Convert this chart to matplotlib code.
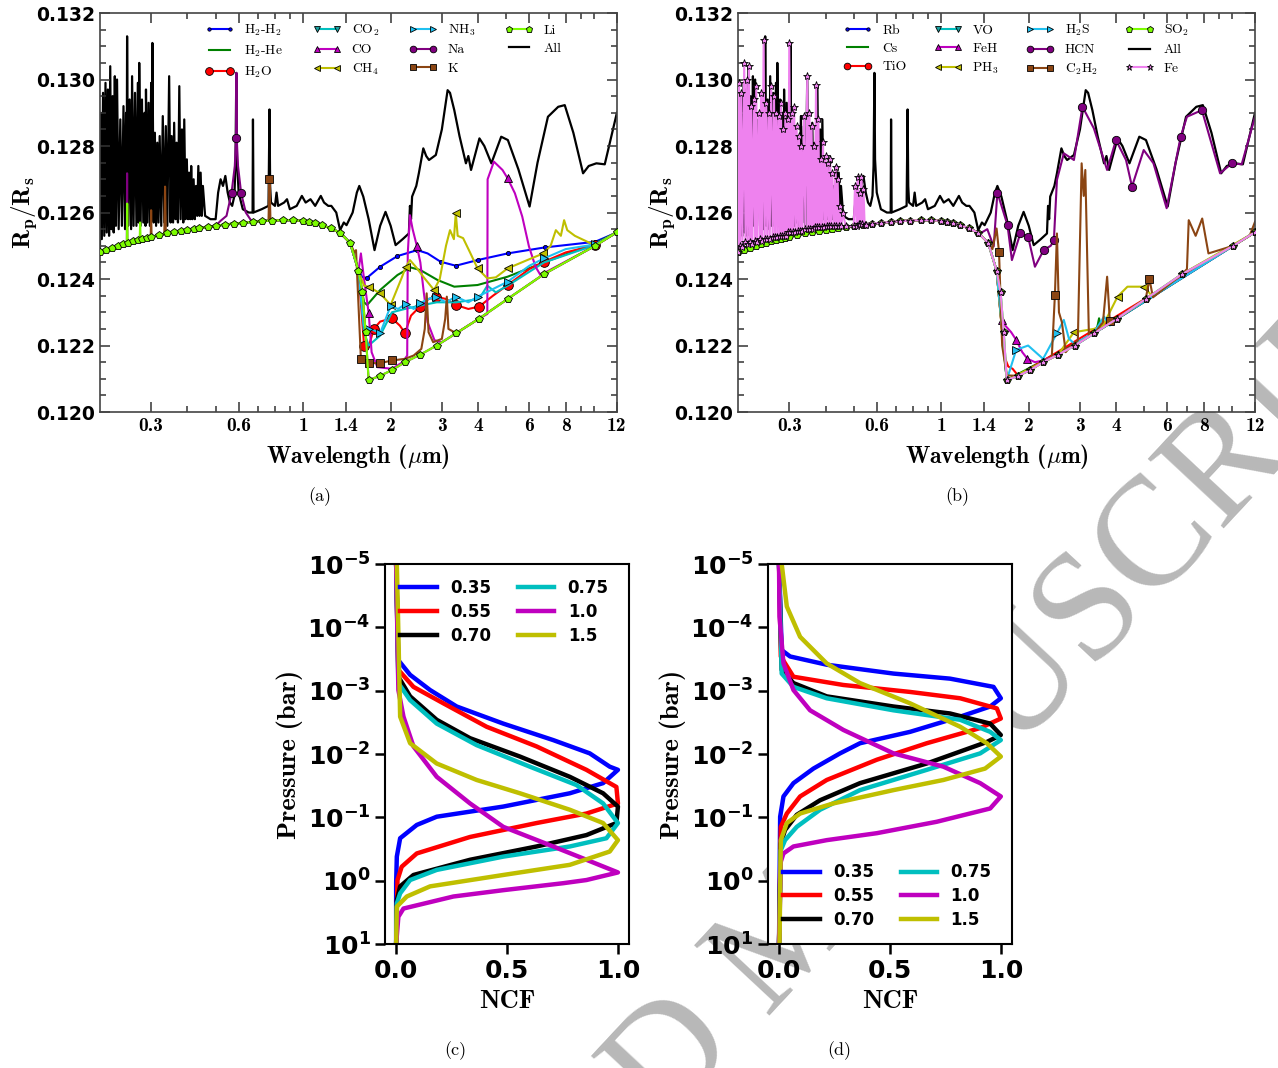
import numpy as np
import matplotlib.pyplot as plt
from matplotlib.ticker import FixedLocator, FixedFormatter, MultipleLocator, FormatStrFormatter, FuncFormatter
from matplotlib.font_manager import FontProperties

plt.rcParams['mathtext.fontset'] = 'dejavusans'

# ---------------- transmission spectra (panels a, b) ----------------
base_wl = [0.20, 0.21, 0.22, 0.23, 0.24, 0.25, 0.26, 0.27, 0.28, 0.29, 0.30, 0.32, 0.34,
           0.36, 0.38, 0.40, 0.42, 0.44, 0.47, 0.50, 0.54, 0.58, 0.62, 0.67, 0.72, 0.78,
           0.85, 0.92, 1.00, 1.05, 1.10, 1.16, 1.25, 1.34, 1.45, 1.55, 1.60, 1.64, 1.68,
           1.84, 2.02, 2.24, 2.52, 2.88, 3.36, 4.03, 5.05, 6.74, 10.1, 12.0]
base_rp = [0.12480, 0.12487, 0.12493, 0.12499, 0.12504, 0.12509, 0.12513, 0.12517, 0.12521,
           0.12524, 0.12527, 0.12532, 0.12537, 0.12541, 0.12545, 0.12548, 0.12551, 0.12553,
           0.12557, 0.12560, 0.12564, 0.12567, 0.12569, 0.12572, 0.12574, 0.12576, 0.12577,
           0.12577, 0.12575, 0.12573, 0.12568, 0.12562, 0.12552, 0.12539, 0.12509, 0.12425,
           0.12360, 0.12240, 0.12096, 0.12109, 0.12126, 0.12150, 0.12172, 0.12200, 0.12237,
           0.12281, 0.12340, 0.12415, 0.12500, 0.12541]

# total spectrum ("All"), same in both panels
all_wl = [0.200, 0.201, 0.203, 0.205, 0.207, 0.209, 0.211, 0.213, 0.215, 0.217, 0.219, 0.221,
          0.223, 0.225, 0.227, 0.229, 0.232, 0.235, 0.238, 0.241, 0.244, 0.246, 0.247, 0.248,
          0.250, 0.253, 0.256, 0.258, 0.261, 0.264, 0.267, 0.270, 0.272, 0.273, 0.276, 0.279,
          0.282, 0.285, 0.287, 0.288, 0.291, 0.294, 0.297, 0.300, 0.302, 0.303, 0.306, 0.309,
          0.312, 0.315, 0.318, 0.321, 0.325, 0.329, 0.333, 0.337, 0.341, 0.346, 0.350, 0.353,
          0.357, 0.360, 0.364, 0.367, 0.371, 0.375, 0.379, 0.383, 0.387, 0.390, 0.394, 0.398,
          0.402, 0.405, 0.409, 0.412, 0.416, 0.420, 0.424, 0.428, 0.432, 0.436, 0.440, 0.444,
          0.448, 0.452, 0.46, 0.48, 0.50, 0.51, 0.52, 0.53, 0.54, 0.55, 0.56, 0.57, 0.58,
          0.585, 0.589, 0.592, 0.60, 0.62, 0.65, 0.670, 0.672, 0.675, 0.72, 0.76, 0.766,
          0.770, 0.775, 0.80, 0.81, 0.82, 0.86, 0.88, 0.90, 0.95, 0.99, 1.02, 1.06, 1.10,
          1.15, 1.18, 1.22, 1.25, 1.30, 1.34, 1.38, 1.41, 1.48, 1.53, 1.56, 1.61, 1.68,
          1.76, 1.84, 1.92, 2.00, 2.08, 2.20, 2.31, 2.33, 2.35, 2.37, 2.45, 2.50, 2.59,
          2.65, 2.71, 2.86, 3.00, 3.14, 3.20, 3.31, 3.45, 3.63, 3.70, 3.78, 4.04, 4.20,
          4.44, 4.80, 5.06, 5.50, 6.01, 6.40, 6.95, 7.54, 7.94, 8.50, 9.18, 9.60, 10.2,
          10.9, 12.0]
all_rp = [0.1249, 0.1290, 0.1252, 0.1296, 0.1253, 0.1299, 0.1254, 0.1297, 0.1253, 0.1304, 0.1255,
          0.1295, 0.1254, 0.1301, 0.1256, 0.1300, 0.1255, 0.1288, 0.1256, 0.1292, 0.1255, 0.1290,
          0.1257, 0.1313, 0.1256, 0.1294, 0.1255, 0.1301, 0.1256, 0.1296, 0.1256, 0.1299, 0.1257,
          0.1305, 0.1256, 0.1294, 0.1257, 0.1290, 0.1256, 0.1297, 0.1257, 0.1293, 0.1256, 0.1299,
          0.1258, 0.1311, 0.1257, 0.1284, 0.1256, 0.1281, 0.1257, 0.1283, 0.1256, 0.1289, 0.1257,
          0.1286, 0.1256, 0.1301, 0.1257, 0.1283, 0.1257, 0.1287, 0.1258, 0.1281, 0.1257, 0.1298,
          0.1258, 0.1285, 0.1257, 0.1288, 0.1258, 0.1276, 0.1258, 0.1272, 0.1258, 0.1274, 0.1258,
          0.1270, 0.1258, 0.1268, 0.1259, 0.1274, 0.1259, 0.1272, 0.1259, 0.1268, 0.1259, 0.1258,
          0.1258, 0.1266, 0.1270, 0.1268, 0.1271, 0.1266, 0.1263, 0.1262, 0.1265, 0.1274, 0.1302,
          0.1276, 0.1266, 0.1261, 0.1260, 0.1260, 0.1288, 0.1260, 0.1261, 0.1262, 0.1291, 0.1268,
          0.1263, 0.1262, 0.1266, 0.1262, 0.1263, 0.1264, 0.1261, 0.1262, 0.1265, 0.1263, 0.1264,
          0.1262, 0.1265, 0.1263, 0.1262, 0.1262, 0.1260, 0.12547, 0.1257, 0.12562, 0.1260,
          0.1266, 0.12680, 0.12648, 0.1258, 0.12487, 0.1256, 0.12602, 0.1256, 0.12502, 0.1252,
          0.12537, 0.1262, 0.1258, 0.12648, 0.1268, 0.12718, 0.12793, 0.1277, 0.12758, 0.12773,
          0.1285, 0.12968, 0.1296, 0.12908, 0.1283, 0.12748, 0.1277, 0.12728, 0.12823, 0.1280,
          0.12748, 0.12828, 0.12818, 0.1273, 0.12618, 0.1275, 0.12888, 0.12918, 0.12923, 0.1284,
          0.12718, 0.1274, 0.12748, 0.12745, 0.12900]

# panel (a) molecules/continua, from 1.45 um on (continuum below that)
h2h2_wl = [1.45, 1.55, 1.60, 1.66, 1.84, 2.11, 2.47, 2.68, 2.97, 3.35, 3.98, 5.05, 6.77, 10.1, 12.0]
h2h2_rp = [0.12509, 0.12425, 0.12405, 0.12404, 0.12437, 0.12469, 0.12487, 0.12477, 0.12452,
           0.12440, 0.12457, 0.12477, 0.12495, 0.12512, 0.12540]
h2he_wl = [1.45, 1.55, 1.62, 1.66, 1.84, 2.11, 2.34, 2.53, 2.90, 3.31, 3.98, 5.05, 6.60, 10.1, 12.0]
h2he_rp = [0.12509, 0.12425, 0.12330, 0.12322, 0.12367, 0.12412, 0.12435, 0.12427, 0.12397,
           0.12377, 0.12382, 0.12407, 0.12447, 0.12507, 0.12541]
h2o_wl = [1.45, 1.55, 1.62, 1.68, 1.75, 1.84, 2.02, 2.15, 2.24, 2.35, 2.52, 2.70, 2.86, 3.10,
          3.35, 3.70, 4.03, 4.50, 5.05, 6.00, 6.74, 8.00, 10.1, 12.0]
h2o_rp = [0.12509, 0.12425, 0.12200, 0.12196, 0.12250, 0.12272, 0.12282, 0.12260, 0.12238,
          0.12290, 0.12317, 0.12340, 0.12347, 0.12340, 0.12322, 0.12310, 0.12317, 0.12350,
          0.12382, 0.12430, 0.12452, 0.12480, 0.12502, 0.12540]
co2_wl = [1.45, 1.55, 1.62, 1.68, 1.84, 2.02, 2.24, 2.52, 2.88, 3.36, 4.03, 4.30, 4.60, 5.05,
          6.74, 10.1, 12.0]
co2_rp = [0.12509, 0.12425, 0.12240, 0.12200, 0.12230, 0.12300, 0.12310, 0.12320, 0.12330,
          0.12330, 0.12340, 0.12380, 0.12360, 0.12380, 0.12450, 0.12502, 0.12540]
co_wl = [1.45, 1.55, 1.58, 1.62, 1.68, 1.72, 1.80, 2.02, 2.20, 2.28, 2.29, 2.33, 2.38, 2.46,
         2.53, 2.60, 2.68, 2.83, 3.00, 3.36, 4.03, 4.30, 4.31, 4.53, 4.85, 5.05, 5.35, 5.67,
         5.98, 6.30, 6.55, 10.1, 12.0]
co_rp = [0.12509, 0.12425, 0.12477, 0.12400, 0.12298, 0.12180, 0.12135, 0.12130, 0.12150,
         0.12170, 0.12477, 0.12592, 0.12550, 0.12500, 0.12450, 0.12360, 0.12270, 0.12216,
         0.12210, 0.12237, 0.12281, 0.12295, 0.12700, 0.12753, 0.12728, 0.12703, 0.12658,
         0.12588, 0.12498, 0.12437, 0.12412, 0.12500, 0.12541]
ch4_wl = [1.45, 1.55, 1.62, 1.68, 1.84, 2.00, 2.19, 2.25, 2.33, 2.45, 2.60, 2.82, 2.95, 3.10,
          3.20, 3.30, 3.35, 3.40, 3.55, 3.75, 3.98, 4.30, 4.60, 5.05, 5.90, 6.70, 7.10, 7.40,
          7.70, 7.90, 8.10, 8.60, 9.50, 10.1, 12.0]
ch4_rp = [0.12509, 0.12425, 0.12380, 0.12377, 0.12357, 0.12322, 0.12407, 0.12435, 0.12457,
          0.12435, 0.12405, 0.12367, 0.12400, 0.12500, 0.12547, 0.12520, 0.12598, 0.12530,
          0.12523, 0.12480, 0.12432, 0.12402, 0.12405, 0.12432, 0.12457, 0.12477, 0.12500,
          0.12547, 0.12530, 0.12577, 0.12547, 0.12530, 0.12512, 0.12502, 0.12541]
nh3_wl = [1.45, 1.55, 1.62, 1.68, 1.76, 1.84, 2.00, 2.12, 2.25, 2.40, 2.52, 2.70, 2.86, 3.10,
          3.35, 3.70, 3.98, 4.50, 5.05, 6.00, 6.74, 8.00, 10.1, 12.0]
nh3_rp = [0.12509, 0.12425, 0.12260, 0.12250, 0.12245, 0.12237, 0.12319, 0.12310, 0.12325,
          0.12310, 0.12327, 0.12340, 0.12347, 0.12330, 0.12347, 0.12330, 0.12347, 0.12370,
          0.12392, 0.12440, 0.12462, 0.12490, 0.12504, 0.12540]
k_wl = [1.45, 1.50, 1.52, 1.58, 1.68, 1.84, 2.02, 2.24, 2.40, 2.55, 2.62, 2.66, 2.70, 2.80,
        3.00, 3.08, 3.12, 3.16, 3.36, 4.03, 5.05, 6.74, 10.1, 12.0]
k_rp = [0.12509, 0.12480, 0.12487, 0.12160, 0.12147, 0.12147, 0.12155, 0.12160, 0.12170,
        0.12190, 0.12250, 0.12357, 0.12240, 0.12210, 0.12220, 0.12280, 0.12347, 0.12250,
        0.12237, 0.12281, 0.12340, 0.12415, 0.12500, 0.12541]

# narrow atomic lines at short wavelength (wavelength, Rp/Rs)
na_lines = [([0.52, 0.545, 0.567, 0.582, 0.588, 0.5895, 0.591, 0.597, 0.612, 0.635, 0.66],
             [0.12575, 0.12590, 0.12658, 0.12740, 0.12823, 0.13020, 0.12823, 0.12740, 0.12658,
              0.12600, 0.12578]),
            ([0.2475, 0.248, 0.2485], [0.12508, 0.12718, 0.12509])]
na_mark = [0.567, 0.588, 0.612]
k_lines = [([0.299, 0.300, 0.301], [0.12526, 0.12607, 0.12527]),
           ([0.333, 0.335, 0.337], [0.12536, 0.12678, 0.12537]),
           ([0.760, 0.766, 0.772], [0.12575, 0.12700, 0.12575])]
li_lines = [([0.2476, 0.2482, 0.2488], [0.12508, 0.12627, 0.12510]),
            ([0.274, 0.275, 0.276], [0.12519, 0.12570, 0.12520])]

# panel (b) species
hcn_wl = [1.36, 1.44, 1.515, 1.56, 1.69, 1.75, 1.87, 1.99, 2.10, 2.25, 2.38, 2.44, 2.50, 2.64,
          2.86, 3.06, 3.35, 3.72, 3.99, 4.32, 4.53, 4.97, 5.37, 5.96, 6.66, 7.00, 7.88, 9.10,
          10.0, 10.8, 12.0]
hcn_rp = [0.12537, 0.12550, 0.12498, 0.12660, 0.12562, 0.12457, 0.12537, 0.12527, 0.12437,
          0.12487, 0.12500, 0.12517, 0.12698, 0.12778, 0.12758, 0.12918, 0.12853, 0.12728,
          0.12818, 0.12758, 0.12678, 0.12788, 0.12748, 0.12613, 0.12828, 0.12888, 0.12908,
          0.12718, 0.12748, 0.12745, 0.12888]
c2h2_wl = [1.45, 1.50, 1.55, 1.58, 1.62, 1.68, 1.84, 2.02, 2.24, 2.40, 2.46, 2.50, 2.54, 2.60,
           2.68, 2.80, 2.95, 3.04, 3.09, 3.13, 3.22, 3.36, 3.60, 3.72, 3.80, 4.03, 5.05, 5.20,
           5.35, 6.74, 7.00, 7.10, 7.50, 7.90, 8.30, 10.1, 11.5, 12.0]
c2h2_rp = [0.12509, 0.12490, 0.12552, 0.12482, 0.12200, 0.12110, 0.12109, 0.12126, 0.12150,
           0.12165, 0.12352, 0.12537, 0.12300, 0.12270, 0.12180, 0.12200, 0.12215, 0.12748,
           0.12650, 0.12728, 0.12230, 0.12237, 0.12270, 0.12407, 0.12275, 0.12281, 0.12340,
           0.12400, 0.12345, 0.12415, 0.12430, 0.12577, 0.12530, 0.12582, 0.12477, 0.12500,
           0.12530, 0.12572]
feh_wl = [1.45, 1.55, 1.62, 1.66, 1.74, 1.81, 1.90, 1.98, 2.10, 2.24, 2.52, 12.0]
feh_rp = [0.12509, 0.12425, 0.12277, 0.12260, 0.12240, 0.12217, 0.12180, 0.12160, 0.12150,
          0.12155, 0.12172, 0.12541]
h2s_wl = [1.45, 1.55, 1.62, 1.68, 1.81, 1.99, 2.24, 2.50, 2.64, 2.75, 2.88, 3.36, 3.63, 3.80,
          4.03, 12.0]
h2s_rp = [0.12509, 0.12425, 0.12250, 0.12096, 0.12187, 0.12200, 0.12160, 0.12237, 0.12277,
          0.12220, 0.12205, 0.12240, 0.12287, 0.12260, 0.12281, 0.12541]
ph3_wl = [1.45, 1.55, 1.62, 1.68, 2.24, 2.52, 2.86, 3.35, 3.60, 4.04, 4.37, 4.97, 5.30, 6.74, 12.0]
ph3_rp = [0.12509, 0.12425, 0.12240, 0.12096, 0.12150, 0.12172, 0.12240, 0.12250, 0.12260,
          0.12347, 0.12377, 0.12377, 0.12350, 0.12415, 0.12541]
tio_wl = [1.45, 1.55, 1.62, 1.66, 1.70, 1.76, 1.84, 12.0]
tio_rp = [0.12509, 0.12425, 0.12240, 0.12160, 0.12137, 0.12130, 0.12109, 0.12541]
rb_wl = [1.45, 1.55, 1.68, 2.52, 2.70, 2.80, 2.88, 12.0]
rb_rp = [0.12509, 0.12425, 0.12096, 0.12172, 0.12190, 0.12202, 0.12200, 0.12541]
cs_wl = [1.45, 1.55, 1.68, 3.36, 3.45, 3.49, 3.55, 12.0]
cs_rp = [0.12509, 0.12425, 0.12096, 0.12237, 0.12260, 0.12282, 0.12250, 0.12541]
fe_uv_wl = [0.200, 0.201, 0.203, 0.205, 0.207, 0.210, 0.212, 0.214, 0.216, 0.218, 0.220, 0.222,
            0.224, 0.227, 0.229, 0.231, 0.233, 0.236, 0.238, 0.240, 0.242, 0.245, 0.247, 0.250,
            0.252, 0.255, 0.257, 0.260, 0.263, 0.266, 0.268, 0.271, 0.273, 0.276, 0.278, 0.281,
            0.283, 0.286, 0.288, 0.291, 0.293, 0.296, 0.298, 0.300, 0.303, 0.306, 0.309, 0.312,
            0.315, 0.318, 0.321, 0.324, 0.327, 0.330, 0.333, 0.337, 0.341, 0.346, 0.349, 0.352,
            0.355, 0.358, 0.361, 0.364, 0.367, 0.371, 0.374, 0.378, 0.381, 0.385, 0.388, 0.392,
            0.396, 0.400, 0.403, 0.407, 0.411, 0.415, 0.418, 0.422, 0.427, 0.433, 0.436, 0.440,
            0.444, 0.448, 0.453, 0.458, 0.47, 0.50, 0.505, 0.512, 0.516, 0.520, 0.524, 0.527,
            0.531, 0.535, 0.540, 0.545, 0.55]
fe_uv_rp = [0.12480, 0.12990, 0.12500, 0.12960, 0.12495, 0.13050, 0.12510, 0.13000, 0.12505,
            0.13040, 0.12510, 0.12920, 0.12505, 0.12940, 0.12515, 0.12980, 0.12510, 0.12900,
            0.12520, 0.12960, 0.12515, 0.13120, 0.12520, 0.12930, 0.12520, 0.12900, 0.12520,
            0.12980, 0.12525, 0.12950, 0.12525, 0.12900, 0.12525, 0.12890, 0.12530, 0.12930,
            0.12530, 0.12850, 0.12530, 0.12900, 0.12530, 0.12880, 0.12540, 0.13110, 0.12540,
            0.12900, 0.12540, 0.12918, 0.12540, 0.12860, 0.12545, 0.12830, 0.12545, 0.12800,
            0.12545, 0.12890, 0.12550, 0.13010, 0.12550, 0.12900, 0.12550, 0.12860, 0.12550,
            0.12800, 0.12555, 0.12983, 0.12555, 0.12880, 0.12555, 0.12760, 0.12555, 0.12813,
            0.12555, 0.12770, 0.12560, 0.12750, 0.12560, 0.12760, 0.12560, 0.12720, 0.12560,
            0.12738, 0.12560, 0.12700, 0.12560, 0.12620, 0.12558, 0.12598, 0.12558, 0.12560,
            0.12680, 0.12560, 0.12708, 0.12565, 0.12660, 0.12565, 0.12708, 0.12565, 0.12670,
            0.12564, 0.12564]

# ---------------- normalized contribution functions (panels c, d) ----------------
labels_ncf = ['0.35', '0.55', '0.70', '0.75', '1.0', '1.5']
colors_ncf = ['b', 'r', 'k', 'c', 'm', 'y']

# panel (c): log10 pressure [bar] and NCF
c_logp = [
    [-5.0, -3.48, -3.25, -3.01, -2.75, -2.48, -2.22, -2.01, -1.80, -1.75, -1.54, -1.38, -1.17, -1.01, -0.88, -0.67, -0.38, 0.04, 1.0],
    [-5.0, -3.33, -3.06, -2.80, -2.43, -2.12, -1.75, -1.48, -1.22, -1.06, -0.91, -0.69, -0.43, -0.22, -0.01, 1.0],
    [-5.0, -3.22, -2.91, -2.54, -2.25, -1.96, -1.64, -1.38, -1.17, -0.91, -0.72, -0.54, -0.33, -0.09, 0.09, 0.31, 1.0],
    [-5.0, -3.12, -2.85, -2.48, -2.14, -1.80, -1.51, -1.22, -0.91, -0.67, -0.54, -0.38, -0.17, -0.01, 0.20, 0.36, 1.0],
    [-5.0, -3.01, -2.59, -2.12, -1.64, -1.22, -0.85, -0.54, -0.33, -0.13, -0.01, 0.04, 0.15, 0.25, 0.44, 0.57, 1.0],
    [-5.0, -3.91, -2.59, -2.17, -1.85, -1.59, -1.38, -1.12, -0.91, -0.64, -0.46, -0.25, -0.09, 0.09, 0.25, 0.41, 1.0],
]
c_ncf = [
    [0.0, 0.010, 0.063, 0.153, 0.273, 0.483, 0.708, 0.873, 0.963, 1.0, 0.933, 0.783, 0.483, 0.183, 0.093, 0.018, 0.003, 0.0, 0.0],
    [0.0, 0.010, 0.078, 0.213, 0.408, 0.633, 0.858, 0.993, 1.0, 0.858, 0.633, 0.333, 0.093, 0.025, 0.006, 0.0],
    [0.0, 0.010, 0.063, 0.183, 0.333, 0.558, 0.783, 0.933, 1.0, 0.993, 0.858, 0.633, 0.333, 0.078, 0.018, 0.003, 0.0],
    [0.0, 0.010, 0.063, 0.183, 0.363, 0.603, 0.813, 0.933, 1.0, 0.948, 0.783, 0.483, 0.183, 0.063, 0.018, 0.003, 0.0],
    [0.0, 0.010, 0.033, 0.078, 0.183, 0.333, 0.483, 0.708, 0.858, 1.0, 0.858, 0.753, 0.483, 0.258, 0.033, 0.010, 0.0],
    [0.003, 0.010, 0.018, 0.063, 0.183, 0.363, 0.558, 0.783, 0.933, 1.0, 0.963, 0.783, 0.483, 0.153, 0.048, 0.003, 0.0],
]
# panel (d)
d_logp = [
    [-5.0, -3.64, -3.54, -3.41, -3.27, -3.19, -3.06, -2.88, -2.75, -2.59, -2.35, -2.17, -2.01, -1.77, -1.54, -1.33, -1.01, 1.0],
    [-5.0, -3.54, -3.22, -3.09, -2.98, -2.88, -2.72, -2.56, -2.41, -2.17, -1.91, -1.59, -1.33, -1.06, -0.85, 1.0],
    [-5.0, -3.33, -3.12, -2.91, -2.75, -2.64, -2.48, -2.30, -2.19, -1.85, -1.54, -1.27, -1.04, -0.80, -0.59, 1.0],
    [-5.0, -3.27, -3.06, -2.88, -2.69, -2.54, -2.35, -2.22, -2.01, -1.75, -1.43, -1.12, -0.85, -0.64, -0.48, 1.0],
    [-5.0, -4.17, -3.43, -3.01, -2.69, -2.38, -2.01, -1.80, -1.54, -1.33, -1.14, -0.93, -0.75, -0.64, -0.54, -0.43, -0.30, 1.0],
    [-5.0, -4.33, -3.85, -3.43, -3.12, -2.80, -2.43, -2.17, -1.96, -1.77, -1.59, -1.43, -1.22, -1.06, -0.91, -0.64, 1.0],
]
d_ncf = [
    [0.0, 0.012, 0.050, 0.215, 0.516, 0.771, 0.967, 1.0, 0.952, 0.817, 0.591, 0.365, 0.275, 0.155, 0.065, 0.020, 0.005, 0.0],
    [0.0, 0.008, 0.065, 0.290, 0.591, 0.817, 0.982, 1.0, 0.907, 0.666, 0.441, 0.215, 0.095, 0.035, 0.008, 0.0],
    [0.0, 0.012, 0.065, 0.215, 0.516, 0.771, 0.952, 1.0, 0.937, 0.666, 0.365, 0.185, 0.080, 0.027, 0.008, 0.0],
    [0.0, 0.012, 0.065, 0.215, 0.516, 0.817, 0.952, 1.0, 0.907, 0.666, 0.365, 0.185, 0.080, 0.027, 0.008, 0.0],
    [0.0, 0.002, 0.020, 0.065, 0.140, 0.290, 0.516, 0.741, 0.907, 1.0, 0.952, 0.711, 0.441, 0.215, 0.065, 0.020, 0.008, 0.0],
    [0.012, 0.035, 0.095, 0.215, 0.365, 0.591, 0.817, 0.937, 1.0, 0.929, 0.741, 0.516, 0.245, 0.095, 0.035, 0.008, 0.002],
]


def on_base(wl, rp):
    """continuum below the species' first point + the species' own points"""
    bw = [w for w in base_wl if w < wl[0]]
    br = [r for w, r in zip(base_wl, base_rp) if w < wl[0]]
    return bw + list(wl), br + list(rp)


def with_lines(groups):
    """continuum with narrow line groups pasted in"""
    pts = list(zip(base_wl, base_rp))
    for gw, gr in groups:
        pts = [p for p in pts if not gw[0] <= p[0] <= gw[-1]] + list(zip(gw, gr))
    pts.sort()
    return [p[0] for p in pts], [p[1] for p in pts]


def draw(ax, w, r, color, marker, label, mark=(), mfc=None, ms=6, lw=1.5, z=2):
    every = [i for i, x in enumerate(w) if x in mark]
    ax.plot(w, r, color=color, lw=lw, marker=marker, markevery=every if marker else None,
            mfc=mfc or color, mec='k', mew=0.6, ms=ms, label=label, zorder=z)


def species(ax, wl, rp, *args, **kw):
    w, r = on_base(wl, rp)
    draw(ax, w, r, *args, **kw)


fig = plt.figure(figsize=(12.78, 10.68), dpi=100)

fig.text(0.621, 0.125, 'ACCEPTED MANUSCRIPT', rotation=47, fontsize=112, color='#b8b8b8',
         family='Liberation Serif', ha='center', va='center', zorder=-5)

ax_a = fig.add_axes([0.0782, 0.6142, 0.4045, 0.3736])
ax_b = fig.add_axes([0.5775, 0.6142, 0.4045, 0.3736])
ax_c = fig.add_axes([0.3013, 0.1161, 0.1909, 0.3558])
ax_d = fig.add_axes([0.6009, 0.1161, 0.1909, 0.3558])

leg_font = FontProperties(family='cmr10', size=9.8, math_fontfamily='cm')

# ---- (a)
ax = ax_a
ax.plot(all_wl, all_rp, color='k', lw=1.6, label='All', zorder=1)
species(ax, h2h2_wl, h2h2_rp, 'b', 'o', r'H$_2$-H$_2$', ms=3,
        mark=[1.66, 1.84, 2.11, 2.47, 2.97, 3.35, 3.98, 5.05, 6.77, 10.1])
species(ax, h2he_wl, h2he_rp, 'g', None, r'H$_2$-He')
species(ax, h2o_wl, h2o_rp, 'r', 'o', r'H$_2$O', ms=7,
        mark=[1.62, 1.75, 2.02, 2.24, 2.52, 2.86, 3.35, 4.03, 5.05, 6.74, 10.1])
species(ax, co2_wl, co2_rp, 'c', 'v', r'CO$_2$', mfc='#1aa0a0', mark=[])
species(ax, co_wl, co_rp, 'm', '^', 'CO', mark=[1.68, 2.46, 5.05])
species(ax, ch4_wl, ch4_rp, 'y', '<', r'CH$_4$', mark=[1.68, 1.84, 2.00, 2.25, 2.82, 3.35, 3.98, 5.05, 6.70])
species(ax, nh3_wl, nh3_rp, '#20c0f0', '>', r'NH$_3$',
        mark=[1.68, 1.84, 2.00, 2.25, 2.52, 2.86, 3.35, 3.98, 5.05, 6.74, 10.1])
na_w, na_r = with_lines(na_lines)
draw(ax, na_w, na_r, 'purple', 'o', 'Na', mark=na_mark, z=3)
k_w, k_r = with_lines(k_lines)
n_short = len([w for w in k_w if w < k_wl[0]])
k_w = k_w[:n_short] + list(k_wl)
k_r = k_r[:n_short] + list(k_rp)
draw(ax, k_w, k_r, '#8b4513', 's', 'K', mark=[1.58, 1.68, 1.84, 2.02, 0.766], z=3)
li_w, li_r = with_lines(li_lines)
draw(ax, li_w, li_r, '#7cfc00', 'p', 'Li', mark=base_wl, z=4)

# ---- (b)
ax = ax_b
ax.plot(all_wl, all_rp, color='k', lw=1.6, label='All', zorder=1)
species(ax, rb_wl, rb_rp, 'b', 'o', 'Rb', ms=3)
species(ax, cs_wl, cs_rp, 'g', None, 'Cs')
species(ax, tio_wl, tio_rp, 'r', 'o', 'TiO')
species(ax, base_wl[-16:], base_rp[-16:], 'c', 'v', 'VO', mfc='#1aa0a0')
species(ax, feh_wl, feh_rp, 'm', '^', 'FeH', mark=[1.62, 1.81, 1.98])
species(ax, ph3_wl, ph3_rp, 'y', '<', r'PH$_3$', mark=[2.86, 4.04, 4.97])
species(ax, h2s_wl, h2s_rp, '#20c0f0', '>', r'H$_2$S', mark=[1.81, 2.50])
species(ax, hcn_wl, hcn_rp, 'purple', 'o', 'HCN',
        mark=[1.56, 1.69, 1.87, 1.99, 2.25, 2.44, 3.06, 3.99, 4.53, 6.66, 7.88, 10.0])
species(ax, c2h2_wl, c2h2_rp, '#8b4513', 's', r'C$_2$H$_2$', mark=[1.58, 2.46, 5.20, 3.80])
draw(ax, base_wl, base_rp, '#7cfc00', 'p', r'SO$_2$', mark=base_wl, z=3)
fe_w = fe_uv_wl + [w for w in base_wl if w > fe_uv_wl[-1]]
fe_r = fe_uv_rp + [r for w, r in zip(base_wl, base_rp) if w > fe_uv_wl[-1]]
draw(ax, fe_w, fe_r, 'violet', '*', 'Fe', mark=fe_w, z=4)

for ax in (ax_a, ax_b):
    ax.set_xscale('log')
    ax.set_xlim(0.2, 12.0)
    ax.set_ylim(0.120, 0.132)
    ax.xaxis.set_major_locator(FixedLocator([0.3, 0.6, 1, 1.4, 2, 3, 4, 6, 8, 12]))
    ax.xaxis.set_major_formatter(FixedFormatter(['0.3', '0.6', '1', '1.4', '2', '3', '4', '6', '8', '12']))
    ax.xaxis.set_minor_locator(FixedLocator([0.4, 0.5, 0.7, 0.8, 0.9, 5, 7, 9, 10]))
    ax.xaxis.set_minor_formatter(FixedFormatter([''] * 9))
    ax.yaxis.set_major_locator(MultipleLocator(0.002))
    ax.yaxis.set_minor_locator(MultipleLocator(0.0005))
    ax.yaxis.set_major_formatter(FormatStrFormatter('%.3f'))
    ax.tick_params(which='both', direction='in', top=True, right=True, width=1.1, color='#333333')
    ax.tick_params(which='major', length=7)
    ax.tick_params(which='minor', length=4)
    for t in ax.get_xticklabels():
        t.set_fontfamily('cmb10')
        t.set_fontsize(14)
    for t in ax.get_yticklabels():
        t.set_fontweight('bold')
        t.set_fontsize(13.5)
    for s in ax.spines.values():
        s.set_color('#444444')
        s.set_linewidth(1.2)
    ax.set_xlabel(r'Wavelength ($\mu$m)', family='cmb10', fontsize=17, math_fontfamily='cm')
    ax.xaxis.set_label_coords(0.5, -0.075)
    ax.set_ylabel(r'$\mathbf{R_p/R_s}$', fontsize=18, math_fontfamily='cm')
    ax.yaxis.set_label_coords(-0.118, 0.5)

leg_kw = dict(ncol=4, loc='upper left', bbox_to_anchor=(0.18, 1.006), frameon=False,
              prop=leg_font, numpoints=2, handlelength=2.1, handletextpad=0.75,
              columnspacing=2.2, labelspacing=0.42, markerscale=0.8)
order_a = ['H$_2$-H$_2$', 'H$_2$-He', 'H$_2$O', 'CO$_2$', 'CO', 'CH$_4$', 'NH$_3$', 'Na', 'K', 'Li', 'All']
h, l = ax_a.get_legend_handles_labels()
hd = dict(zip(l, h))
ax_a.legend([hd[k] for k in order_a], order_a, **leg_kw)
order_b = ['Rb', 'Cs', 'TiO', 'VO', 'FeH', 'PH$_3$', 'H$_2$S', 'HCN', 'C$_2$H$_2$', 'SO$_2$', 'All', 'Fe']
h, l = ax_b.get_legend_handles_labels()
hd = dict(zip(l, h))
leg_kw['columnspacing'] = 2.0
ax_b.legend([hd[k] for k in order_b], order_b, **leg_kw)

# ---- (c), (d)
exp_fmt = FuncFormatter(lambda v, p: r'$\mathbf{10^{%d}}$' % round(np.log10(v)))
for ax, lp, nc, leg_loc, anchor in ((ax_c, c_logp, c_ncf, 'upper left', (0.0, 1.0)),
                                     (ax_d, d_logp, d_ncf, 'lower left', (0.0, 0.0))):
    for k in range(6):
        ax.plot(nc[k], 10.0 ** np.array(lp[k]), color=colors_ncf[k], lw=3.2, label=labels_ncf[k])
    ax.set_yscale('log')
    ax.set_ylim(10.0, 1e-5)
    ax.set_xlim(-0.05, 1.05)
    ax.set_xticks([0.0, 0.5, 1.0])
    ax.set_xticklabels(['0.0', '0.5', '1.0'], fontweight='bold', fontsize=18)
    ax.set_yticks([1e-5, 1e-4, 1e-3, 1e-2, 1e-1, 1e0, 1e1])
    ax.yaxis.set_major_formatter(exp_fmt)
    ax.yaxis.set_minor_locator(FixedLocator([]))
    ax.tick_params(axis='y', labelsize=18, length=7, width=1.8)
    ax.tick_params(axis='x', length=7, width=1.8)
    for s in ax.spines.values():
        s.set_linewidth(1.5)
    ax.set_xlabel('NCF', family='cmb10', fontsize=19)
    ax.xaxis.set_label_coords(0.5, -0.122)
    ax.set_ylabel('Pressure (bar)', family='cmb10', fontsize=19)
    ax.yaxis.set_label_coords(-0.335, 0.5)
    ax.legend(ncol=2, loc=leg_loc, bbox_to_anchor=anchor, frameon=False,
              prop={'weight': 'bold', 'size': 12}, handlelength=2.2, columnspacing=1.6,
              labelspacing=0.35, handletextpad=0.8)

for x, y, s in ((0.2504, 0.5346, '(a)'), (0.7488, 0.5346, '(b)'),
                (0.356, 0.0159, '(c)'), (0.657, 0.0159, '(d)')):
    fig.text(x, y, s, family='cmr10', fontsize=13, ha='center', va='center')

fig.savefig('out.png', dpi=100)
